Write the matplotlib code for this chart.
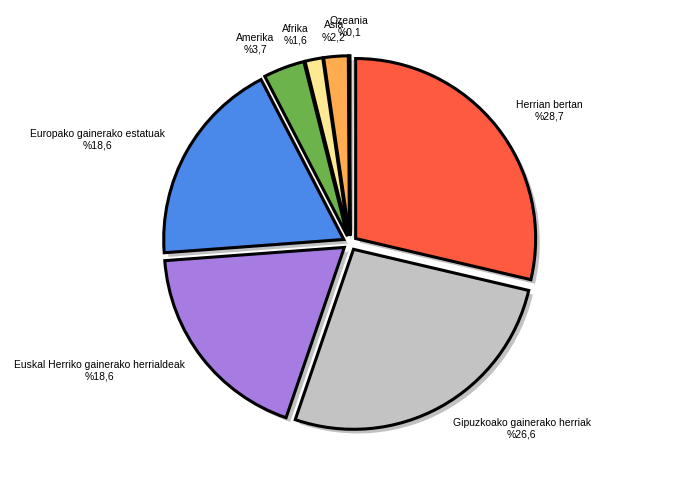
import numpy as np
import matplotlib.pyplot as plt
import matplotlib.patheffects as pe
import matplotlib as mpl

mpl.rcParams["font.family"] = ["Liberation Sans", "DejaVu Sans"]

labels = ["Herrian bertan", "Gipuzkoako gainerako herriak",
          "Euskal Herriko gainerako herrialdeak", "Europako gainerako estatuak",
          "Amerika", "Afrika", "Asia", "Ozeania"]
values = [28.7, 26.6, 18.6, 18.6, 3.7, 1.6, 2.2, 0.1]
colors = ["#fe5a3f", "#c3c3c3", "#a67ce2", "#4a88ea", "#6db34b", "#fde894",
          "#feac4f", "#d0a0ff"]

# how far each label sits from the slice (in radii)
lab_dist = [1.14, 1.14, 1.12, 1.14, 1.145, 1.14, 1.14, 1.16]

texts = ["%s\n%%%s" % (l, str(v).replace(".", ",")) for l, v in zip(labels, values)]

fig = plt.figure(figsize=(7, 5), dpi=100)
ax = fig.add_axes([0, 0, 1, 1])
r = 180.

wedges, _ = ax.pie(values, colors=colors, startangle=90,
                   counterclock=False, explode=[0.04] * len(values),
                   normalize=True,
                   wedgeprops=dict(edgecolor="black", linewidth=2.2,
                                   path_effects=[pe.withSimplePatchShadow(offset=(3, -3), shadow_rgbFace="#999999", alpha=0.6)]))

for w, t, d in zip(wedges, texts, lab_dist):
    th = np.deg2rad((w.theta1 + w.theta2) / 2.)
    cx, cy = w.center
    x = cx + d * np.cos(th)
    y = cy + d * np.sin(th)
    if abs(np.cos(th)) < 0.1:
        ha = "center"
    elif np.cos(th) > 0:
        ha = "left"
    else:
        ha = "right"
    ax.text(x, y, t, ha=ha, va="center", multialignment="center", fontsize=7.5)

ax.set_aspect("auto")
ax.set_xlim(-350 / r, 350 / r)
ax.set_ylim(-257 / r, 243 / r)
ax.axis("off")

fig.savefig("out.png")
